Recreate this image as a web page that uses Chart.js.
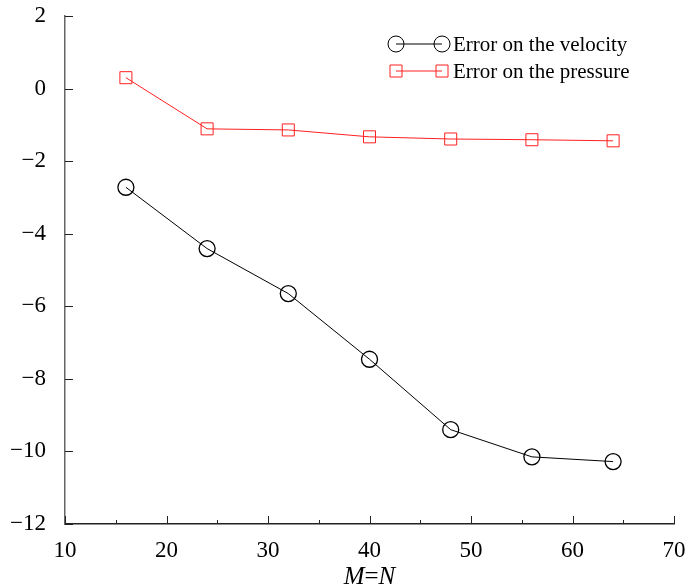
<!doctype html>
<html>
<head>
    <title>Error vs M=N</title>
    <script src="https://cdn.jsdelivr.net/npm/chart.js"></script>
    <style>
        html, body { margin: 0; padding: 0; background: #fff; }
        .wrapper { width: 687px; height: 587px; }
    </style>
</head>
<body>
    <div class="wrapper">
        <canvas id="chart" width="687" height="587"></canvas>
    </div>

    <script>
        // Data
        var gridSizes = [16, 24, 32, 40, 48, 56, 64];
        var velocityError = [-2.72, -4.41, -5.65, -7.46, -9.40, -10.15, -10.28];
        var pressureError = [0.30, -1.11, -1.14, -1.33, -1.39, -1.41, -1.44];
        var xTicks = [10, 20, 30, 40, 50, 60, 70];
        var xMinorTicks = [15, 25, 35, 45, 55, 65];
        var yTicks = [-12, -10, -8, -6, -4, -2, 0, 2];
        var seriesLabels = ['Error on the velocity', 'Error on the pressure'];

        var SERIF = '"Liberation Serif", "DejaVu Serif", serif';

        function toPoints(xs, ys) {
            return xs.map(function (x, i) { return { x: x, y: ys[i] }; });
        }

        // Inward tick marks, legend with markers at both ends, and the M=N title
        var decorations = {
            id: 'decorations',
            afterDraw: function (chart) {
                var ctx = chart.ctx, xs = chart.scales.x, ys = chart.scales.y;
                var area = chart.chartArea;
                ctx.save();
                ctx.strokeStyle = '#222';
                ctx.lineWidth = 1;
                ctx.beginPath();
                xTicks.forEach(function (v) {
                    var px = Math.round(xs.getPixelForValue(v)) + 0.5;
                    ctx.moveTo(px, area.bottom); ctx.lineTo(px, area.bottom - 8);
                });
                xMinorTicks.forEach(function (v) {
                    var px = Math.round(xs.getPixelForValue(v)) + 0.5;
                    ctx.moveTo(px, area.bottom); ctx.lineTo(px, area.bottom - 4);
                });
                yTicks.forEach(function (v) {
                    var py = Math.round(ys.getPixelForValue(v)) + 0.5;
                    ctx.moveTo(area.left, py); ctx.lineTo(area.left + 8, py);
                });
                ctx.stroke();

                // legend
                var rows = [
                    { ds: chart.data.datasets[0], y: 44 },
                    { ds: chart.data.datasets[1], y: 71 }
                ];
                var x0 = 396, x1 = 442, tx = 453;
                rows.forEach(function (r) {
                    var ds = r.ds;
                    ctx.strokeStyle = ds.borderColor;
                    ctx.lineWidth = 1;
                    ctx.beginPath();
                    ctx.moveTo(x0, r.y); ctx.lineTo(x1, r.y);
                    ctx.stroke();
                    [x0, x1].forEach(function (cx) {
                        ctx.beginPath();
                        if (ds.pointStyle === 'circle') {
                            ctx.arc(cx, r.y, 8, 0, Math.PI * 2);
                        } else {
                            ctx.rect(cx - 6, r.y - 6, 12, 12);
                        }
                        ctx.stroke();
                    });
                    ctx.fillStyle = '#000';
                    ctx.font = '21px ' + SERIF;
                    ctx.textBaseline = 'middle';
                    ctx.textAlign = 'left';
                    ctx.fillText(ds.label, tx, r.y + 1);
                });

                // x axis title: italic M and N
                var parts = [['M', 'italic '], ['=', ''], ['N', 'italic ']];
                var widths = parts.map(function (p) {
                    ctx.font = p[1] + '25px ' + SERIF;
                    return ctx.measureText(p[0]).width;
                });
                var total = widths.reduce(function (a, b) { return a + b; }, 0);
                var px = (area.left + area.right) / 2 - total / 2;
                ctx.textBaseline = 'middle';
                parts.forEach(function (p, i) {
                    ctx.font = p[1] + '25px ' + SERIF;
                    ctx.fillText(p[0], px, 577);
                    px += widths[i];
                });
                ctx.restore();
            }
        };

        var ctx = document.getElementById('chart').getContext('2d');
        var chart = new Chart(ctx, {
            type: 'line',
            data: {
                datasets: [{
                    label: seriesLabels[0],
                    data: toPoints(gridSizes, velocityError),
                    borderColor: '#000',
                    backgroundColor: 'rgba(0,0,0,0)',
                    borderWidth: 1,
                    pointStyle: 'circle',
                    pointRadius: 8,
                    pointBorderWidth: 1.3,
                    tension: 0
                }, {
                    label: seriesLabels[1],
                    data: toPoints(gridSizes, pressureError),
                    borderColor: '#ff2020',
                    backgroundColor: 'rgba(0,0,0,0)',
                    borderWidth: 1,
                    pointStyle: 'rect',
                    pointRadius: 8.5,
                    pointBorderWidth: 1,
                    tension: 0
                }]
            },
            options: {
                responsive: false,
                animation: false,
                layout: { autoPadding: false, padding: { left: 0, right: 13, top: 16, bottom: 0 } },
                plugins: {
                    legend: { display: false },
                    tooltip: { enabled: false }
                },
                scales: {
                    x: {
                        type: 'linear',
                        min: 10,
                        max: 70,
                        grid: { display: false },
                        border: { display: true, color: '#222', width: 1.5 },
                        ticks: {
                            stepSize: 10,
                            color: '#000',
                            padding: 5,
                            maxRotation: 0,
                            font: { family: SERIF, size: 23 }
                        },
                        afterFit: function (scale) {
                            scale.height = 63;
                            scale.paddingLeft = 0; scale.paddingRight = 0;
                        }
                    },
                    y: {
                        min: -12,
                        max: 2,
                        grid: { display: false },
                        border: { display: true, color: '#666', width: 1.5 },
                        ticks: {
                            stepSize: 2,
                            color: '#000',
                            padding: 11,
                            font: { family: SERIF, size: 23 },
                            callback: function (v) { return String(v).replace('-', '\u2212'); }
                        },
                        afterFit: function (scale) {
                            scale.width = 65;
                            scale.paddingTop = 0; scale.paddingBottom = 0;
                        }
                    }
                }
            },
            plugins: [decorations]
        });
    </script>
</body>
</html>
